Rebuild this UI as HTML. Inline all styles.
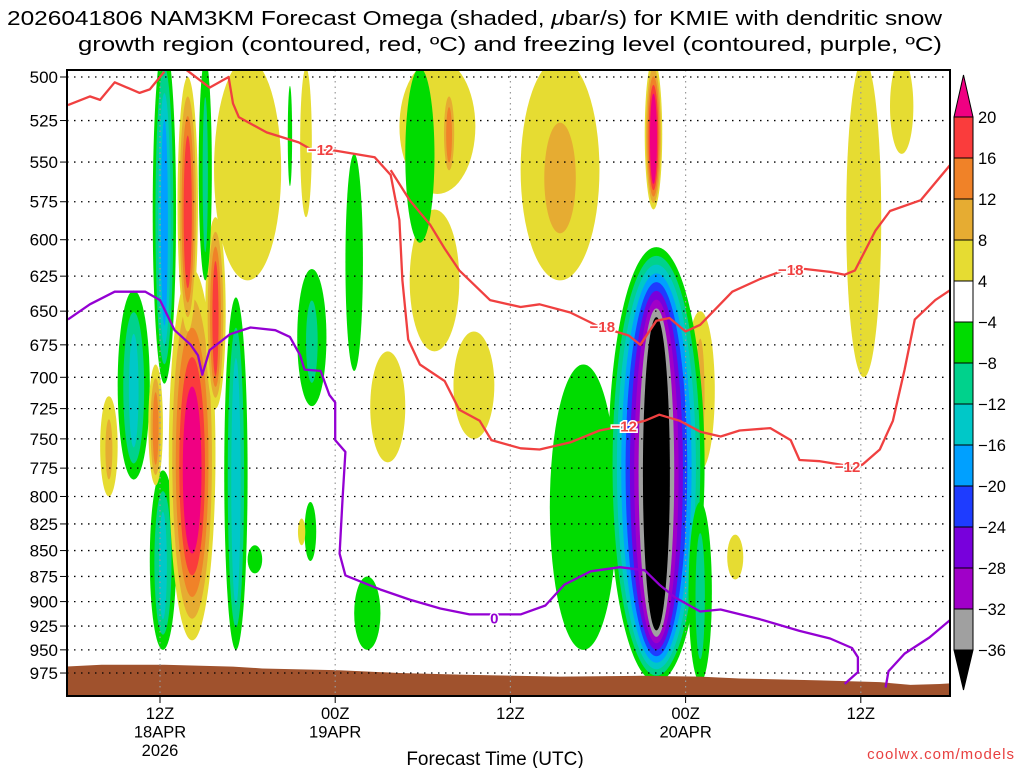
<!DOCTYPE html>
<html><head><meta charset="utf-8"><style>
body{margin:0;background:#fff;width:1024px;height:768px;overflow:hidden}
svg{display:block;font-family:"Liberation Sans",sans-serif}
</style></head><body>
<svg id="chart" width="1024" height="768" viewBox="0 0 1024 768">
<text x="7" y="25" font-size="20" textLength="935" lengthAdjust="spacingAndGlyphs">2026041806 NAM3KM Forecast Omega (shaded, <tspan font-style="italic">μ</tspan>bar/s) for KMIE with dendritic snow</text>
<text x="78" y="51" font-size="20" textLength="864" lengthAdjust="spacingAndGlyphs">growth region (contoured, red, ºC) and freezing level (contoured, purple, ºC)</text>
<defs><clipPath id="pc"><rect x="67" y="70" width="883" height="626"/></clipPath></defs>
<g id="fills" clip-path="url(#pc)"></g>
<g id="grid"></g>
<g id="lines" clip-path="url(#pc)"></g>
<rect x="67" y="70" width="883" height="626" fill="none" stroke="#000" stroke-width="2"/>
<g id="axes"></g>
<g id="cbar"></g>
<text x="495" y="765" font-size="19" text-anchor="middle">Forecast Time (UTC)</text>
<text x="1015" y="759" font-size="15" fill="#e84040" text-anchor="end" letter-spacing="1">coolwx.com/models</text>
</svg>
<script>
const pressureTicks=[500,525,550,575,600,625,650,675,700,725,750,775,800,825,850,875,900,925,950,975];
const timeTicks=[0,12,24,36,48];
const timeLabels=[["12Z","18APR","2026"],["00Z","19APR"],["12Z"],["00Z","20APR"],["12Z"]];
const posColors=["#e6dc32","#e6ac32","#f08228","#fa3c3c","#f00082"];
const negColors=["#00dc00","#00d28c","#00c8c8","#00a0ff","#1e3cff","#7800dc","#a000c8","#a0a0a0","#000000"];
const cbarLabels=["20","16","12","8","4","-4","-8","-12","-16","-20","-24","-28","-32","-36"];
// blobs: [hour, pTop, pBot, halfWidthHours, level (+ up / - down), innerFracX, innerFracY]
const blobs=[
[6,490,628,2.3,1,1,1],[19,490,570,2.6,1,1,1],[27.4,490,628,2.7,2,.4,.5],[48.2,490,700,1.2,1,1,1],[50.8,490,545,.8,1,1,1],
[18.8,580,680,1.7,1,1,1],[15.6,680,770,1.2,1,1,1],[21.5,665,750,1.4,1,1,1],[19.8,505,560,.5,3,.4,.6],
[37,650,777,1.0,2,.3,.7],[39.4,835,878,.55,1,1,1],[10,495,585,.4,1,1,1],
[0.3,480,705,.8,-4,.3,.6],[-1.8,635,785,1.1,-3,.3,.6],[0.2,777,950,.9,-3,.3,.6],
[2.2,620,940,1.6,5,.4,.45],[1.9,500,665,.7,4,.4,.6],[3.8,585,725,.7,4,.3,.6],
[3.1,490,628,.45,-2,.4,.7],[5.2,640,950,.8,-3,.4,.7],[-3.5,715,800,.6,2,.4,.6],[-0.3,690,790,.5,3,.4,.6],
[10.4,620,723,1.0,-2,.4,.6],[13.3,545,695,.6,-1,1,1],[8.9,505,565,.15,-1,1,1],[6.5,845,872,.5,-1,1,1],
[10.3,805,860,.4,-1,1,1],[14.2,875,950,.9,-1,1,1],[17.8,495,602,1.0,-1,1,1],[9.7,820,845,.25,1,1,1],
[29,690,950,2.3,-1,1,1],[33.8,490,580,.6,5,.4,.6],[34,605,985,3.3,-9,.28,.72],[37,805,985,.8,-2,.4,.7]
];
const red12a=[[-6.3,516],[-4.8,511],[-4.1,513],[-3.1,503],[-1.4,509],[-0.7,507],[0.3,497]];
const red12b=[[1.8,496],[3.4,506],[4.7,500],[5.0,515],[5.4,523],[7.3,532],[9.5,538],[10.3,542],[12,543],[14.7,547],[15.8,558],[16.4,587],[16.6,628],[17,671],[17.8,690],[19.5,703],[20.5,726],[21.9,735],[22.7,751],[24.7,758],[26,759],[28.1,753],[30.1,743],[31.8,739],[33.2,735],[34.2,730],[35.6,735],[37,744],[38.4,748],[39.7,743],[41.8,741],[43.2,751],[43.8,768],[45.2,769],[47.1,773],[48.1,772],[49.3,759],[50.2,735],[51,694],[51.7,656],[53.1,642],[54.1,635]];
const red18=[[15.8,555],[17.1,574],[18.5,590],[19.5,606],[20.5,621],[22.6,642],[24.7,647],[26,645],[28.1,651],[30,661],[32.1,668],[32.9,675],[34,657],[34.9,655],[36,665],[37,660],[39.2,636],[41.1,627],[43,620],[44.2,620],[45.9,622],[46.9,624],[47.6,621],[49,594],[50,581],[52.1,574],[54.1,552]];
const redLabels=[["-12",11,542],["-12",31.8,739],["-12",47.1,773],["-18",30.3,661],["-18",43.2,620]];
const frz1=[[-6.3,656],[-4.8,645],[-3.1,636],[-1,636],[0,642],[1,664],[2.1,675],[2.6,683],[2.9,698],[3.4,679],[4.8,667],[6.2,662],[7.9,664],[8.9,669],[9.6,683],[9.9,694],[11,695],[11.6,714],[12,720],[12,751],[12.7,761],[12.5,803],[12.3,853],[12.7,874],[15.1,888],[17.1,898],[19.2,907],[21.2,913],[24.7,913],[26.4,904],[27.7,883],[29.5,870],[31.5,866],[33.2,869],[34.2,883],[35.3,896],[37,910],[38.4,908],[41.1,918],[43.8,930],[45.9,938],[47.4,948],[47.8,958],[47.8,974],[46.9,987]];
const frz2=[[49.7,991],[49.9,973],[51,954],[52.7,937],[54.1,919]];
const frzLabels=[["0",22.9,916]];
const terrainHours=[-6.5,-4,0.3,5,7,12.3,16.4,21.2,27.4,32.9,37,39.7,45.2,49.3,51.4,53.4,54.5];
const terrainP=[968,966,966,968,970,972,975,977,979,978,979,981,983,985,988,987,986];

const X=h=>160+h*14.6;
const Y=p=>77+Math.log(p/500)/0.6678*596;
const NS="http://www.w3.org/2000/svg";
function mk(tag,attrs,parent){const e=document.createElementNS(NS,tag);for(const k in attrs)e.setAttribute(k,attrs[k]);parent.appendChild(e);return e;}
const fills=document.getElementById('fills'),grid=document.getElementById('grid'),lines=document.getElementById('lines'),axes=document.getElementById('axes'),cbar=document.getElementById('cbar');

let td=`M${X(terrainHours[0])},700`;
terrainHours.forEach((h,i)=>{td+=` L${X(h)},${Y(terrainP[i])}`;});
td+=` L${X(terrainHours[terrainHours.length-1])},700 Z`;
blobs.forEach((b,bi)=>{
  const [h,pt,pb,hw,lev,fx,fy]=b;const n=Math.abs(lev);
  const cx=X(h),y1=Y(pt),y2=Y(pb),cy=(y1+y2)/2,ry=(y2-y1)/2,rx=hw*14.6;
  const cols=lev>0?posColors:negColors;
  for(let k=0;k<n;k++){
    const t=n>1?k/(n-1):0;
    const sx=1-t*(1-fx),sy=1-t*(1-fy);
    const e=mk('ellipse',{cx:cx,cy:cy+(1-sy)*ry*0.15,rx:rx*sx,ry:ry*sy,fill:cols[k]},fills);
    
    
  }
});
const terr=mk('path',{d:td,fill:'#a0522d'},fills);


pressureTicks.forEach(p=>{
  const g=mk('line',{x1:67,x2:950,y1:Y(p),y2:Y(p),stroke:'#000','stroke-width':1.3,'stroke-dasharray':'1.5,5.5'},grid);
  
  
  const tk=mk('line',{x1:60,x2:67,y1:Y(p),y2:Y(p),stroke:'#000','stroke-width':1},axes);
  
  
  const t=mk('text',{x:58,y:Y(p)+6,'font-size':17,'text-anchor':'end'},axes);t.textContent=p;
  
  
});
timeTicks.forEach((h,i)=>{
  const g=mk('line',{x1:X(h),x2:X(h),y1:70,y2:696,stroke:'#999','stroke-width':1.2,'stroke-dasharray':'1.5,4'},grid);
  
  
  const tk=mk('line',{x1:X(h),x2:X(h),y1:696,y2:703,stroke:'#000'},axes);
  
  
  timeLabels[i].forEach((s,j)=>{const t=mk('text',{x:X(h),y:719+j*18.5,'font-size':16.5,'text-anchor':'middle'},axes);t.textContent=s;
    
    });
});
function poly(arr,color,name){const d=arr.map((q,i)=>(i?'L':'M')+X(q[0]).toFixed(1)+','+Y(q[1]).toFixed(1)).join(' ');
  const e=mk('path',{d:d,fill:'none',stroke:color,'stroke-width':2.3,'stroke-linejoin':'round'},lines);
  
  }
poly(red12a,'#f04040','dgz-contour-12-left');
poly(red12b,'#f04040','dgz-contour-12');
poly(red18,'#f04040','dgz-contour-18');
poly(frz1,'#9400d3','freezing-level-contour');
poly(frz2,'#9400d3','freezing-level-contour-right');
function lab(arr,color,name){arr.forEach(l=>{
  const t=mk('text',{x:X(l[1]),y:Y(l[2])+6,'font-size':15,'font-weight':'bold',fill:color,'text-anchor':'middle',stroke:'#fff','stroke-width':3,'paint-order':'stroke'},lines);t.textContent=l[0].replace('-','−');
  
  });}
lab(redLabels,'#f04040','dgz-contour-label');
lab(frzLabels,'#9400d3','freezing-contour-label');
const cbCols=[posColors[3],posColors[2],posColors[1],posColors[0],'#ffffff'].concat(negColors.slice(0,8));
const cbX=954,cbW=19,cbTop=117,cbH=41;
const tri=mk('polygon',{points:`${cbX},${cbTop} ${cbX+cbW},${cbTop} ${cbX+cbW/2},75`,fill:posColors[4],stroke:'#000'},cbar);


cbCols.forEach((c,i)=>{const r=mk('rect',{x:cbX,y:cbTop+i*cbH,width:cbW,height:cbH,fill:c,stroke:'#000','stroke-width':1},cbar);
  
  });
const cbBot=cbTop+cbCols.length*cbH;
const tri2=mk('polygon',{points:`${cbX},${cbBot} ${cbX+cbW},${cbBot} ${cbX+cbW/2},${cbBot+40}`,fill:'#000',stroke:'#000'},cbar);


cbarLabels.forEach((s,i)=>{const t=mk('text',{x:978,y:cbTop+i*cbH+6,'font-size':16.5},cbar);t.textContent=s.replace('-','−');
  
  });
</script>
</body></html>
